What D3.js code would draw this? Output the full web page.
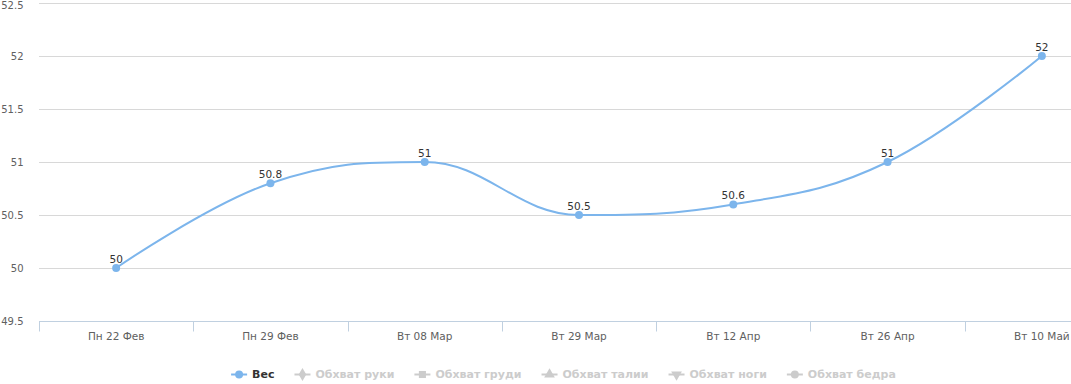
<!DOCTYPE html>
<html><head><meta charset="utf-8">
<script src="https://cdn.jsdelivr.net/npm/d3@7"></script>
<style>
html,body{margin:0;padding:0;background:#fff;overflow:hidden;}
svg{display:block;font-family:"DejaVu Sans","Lucida Grande",sans-serif;}
</style></head>
<body>
<svg id="chart" width="1071" height="384"></svg>
<script>
const categories = ["Пн 22 Фев","Пн 29 Фев","Вт 08 Мар","Вт 29 Мар","Вт 12 Апр","Вт 26 Апр","Вт 10 Май"];
const weightValues = [50, 50.8, 51, 50.5, 50.6, 51, 52];
const yTicks = [49.5, 50, 50.5, 51, 51.5, 52, 52.5];
const seriesNames = ["Вес","Обхват руки","Обхват груди","Обхват талии","Обхват ноги","Обхват бедра"];
const seriesSymbols = ["circle","diamond","square","triangle","triangle-down","circle"];

const svg = d3.select("#chart");
const W = 1071, H = 384;
const plotLeft = 39, plotRight = 1119, plotTop = 3, plotBottom = 321;
const chartWidth = 1127; // full (cropped) chart width, used to centre the legend

const x = d3.scaleBand().domain(categories).range([plotLeft, plotRight]);
const y = d3.scaleLinear().domain([49.5, 52.5]).range([plotBottom, plotTop]);

// grid
svg.append("g").selectAll("line").data(yTicks.filter(t => t !== 49.5)).join("line")
  .attr("x1", plotLeft).attr("x2", W)
  .attr("y1", d => Math.round(y(d)) + 0.5).attr("y2", d => Math.round(y(d)) + 0.5)
  .attr("stroke", "#d8d8d8").attr("stroke-width", 1);

// y labels
svg.append("g").selectAll("text").data(yTicks).join("text")
  .attr("x", 23.5).attr("y", d => Math.max(y(d) + 4, 8.5))
  .attr("text-anchor", "end").attr("font-size", 10).attr("fill", "#606060")
  .text(d => d);

// x axis
const gx = svg.append("g").attr("transform", `translate(0,${plotBottom + 0.5})`);
gx.append("line").attr("x1", plotLeft).attr("x2", W).attr("y1", 0).attr("y2", 0)
  .attr("stroke", "#c0d0e0").attr("stroke-width", 1);
gx.selectAll("line.tick").data(categories).join("line").attr("class","tick")
  .attr("x1", d => Math.round(x(d)) + 0.5).attr("x2", d => Math.round(x(d)) + 0.5)
  .attr("y1", 0).attr("y2", 10).attr("stroke", "#c0d0e0");
gx.selectAll("text").data(categories).join("text")
  .attr("x", d => x(d) + x.bandwidth() / 2).attr("y", 18.5)
  .attr("text-anchor", "middle").attr("font-size", 10.5).attr("fill", "#606060")
  .text(d => d);

// Highcharts-like spline
const pts = weightValues.map((v, i) => [x(categories[i]) + x.bandwidth() / 2, y(v)]);
function splinePath(p) {
  const sm = 1.5, path = d3.path();
  path.moveTo(p[0][0], p[0][1]);
  const ctrl = p.map((pt, i) => {
    if (i === 0 || i === p.length - 1) return null;
    const [lx, ly] = p[i - 1], [nx, ny] = p[i + 1], [px, py] = pt;
    let lcx = (sm * px + lx) / (sm + 1), lcy = (sm * py + ly) / (sm + 1);
    let rcx = (sm * px + nx) / (sm + 1), rcy = (sm * py + ny) / (sm + 1);
    const corr = ((rcy - lcy) * (rcx - px)) / (rcx - lcx) + py - rcy;
    lcy += corr; rcy += corr;
    if (lcy > ly && lcy > py) { lcy = Math.max(ly, py); rcy = 2 * py - lcy; }
    else if (lcy < ly && lcy < py) { lcy = Math.min(ly, py); rcy = 2 * py - lcy; }
    if (rcy > ny && rcy > py) { rcy = Math.max(ny, py); lcy = 2 * py - rcy; }
    else if (rcy < ny && rcy < py) { rcy = Math.min(ny, py); lcy = 2 * py - rcy; }
    return { lcx, lcy, rcx, rcy };
  });
  for (let i = 1; i < p.length; i++) {
    const a = ctrl[i - 1], b = ctrl[i];
    const c1 = a ? [a.rcx, a.rcy] : p[i - 1];
    const c2 = b ? [b.lcx, b.lcy] : p[i];
    path.bezierCurveTo(c1[0], c1[1], c2[0], c2[1], p[i][0], p[i][1]);
  }
  return path.toString();
}
svg.append("path").attr("d", splinePath(pts)).attr("fill", "none")
  .attr("stroke", "#7cb5ec").attr("stroke-width", 2).attr("stroke-linejoin", "round");

svg.append("g").selectAll("circle").data(weightValues).join("circle")
  .attr("cx", (d, i) => x(categories[i]) + x.bandwidth() / 2).attr("cy", d => y(d))
  .attr("r", 4).attr("fill", "#7cb5ec");

svg.append("g").selectAll("text").data(weightValues).join("text")
  .attr("x", (d, i) => x(categories[i]) + x.bandwidth() / 2).attr("y", d => y(d) - 5)
  .attr("text-anchor", "middle").attr("font-size", 10.5).attr("fill", "#333")
  .text(d => d);

// legend
const legend = svg.append("g").attr("font-size", 11).attr("font-weight", "bold");
const items = seriesNames.map((n, i) => {
  const t = legend.append("text").text(n).attr("fill", i === 0 ? "#333" : "#ccc");
  return { t, w: t.node().getComputedTextLength(), sym: seriesSymbols[i], i };
});
const symW = 16, gap = 5, dist = 20;
const total = d3.sum(items, d => symW + gap + d.w) + dist * (items.length - 1);
let cx0 = (chartWidth - total) / 2;
const ly = 374;
items.forEach(it => {
  const col = it.i === 0 ? "#7cb5ec" : "#ccc";
  legend.append("line").attr("x1", cx0).attr("x2", cx0 + symW).attr("y1", ly + 0.5).attr("y2", ly + 0.5)
    .attr("stroke", col).attr("stroke-width", 2);
  const typeMap = { circle: d3.symbolCircle, diamond: d3.symbolDiamond, square: d3.symbolSquare, triangle: d3.symbolTriangle, "triangle-down": d3.symbolTriangle };
  legend.append("path").attr("d", d3.symbol(typeMap[it.sym], 50)())
    .attr("transform", `translate(${cx0 + symW / 2},${ly + 0.5})${it.sym === "triangle-down" ? " rotate(180)" : ""}`)
    .attr("fill", col);
  it.t.attr("x", cx0 + symW + gap).attr("y", ly + 4);
  cx0 += symW + gap + it.w + dist;
});
</script>
</body></html>
